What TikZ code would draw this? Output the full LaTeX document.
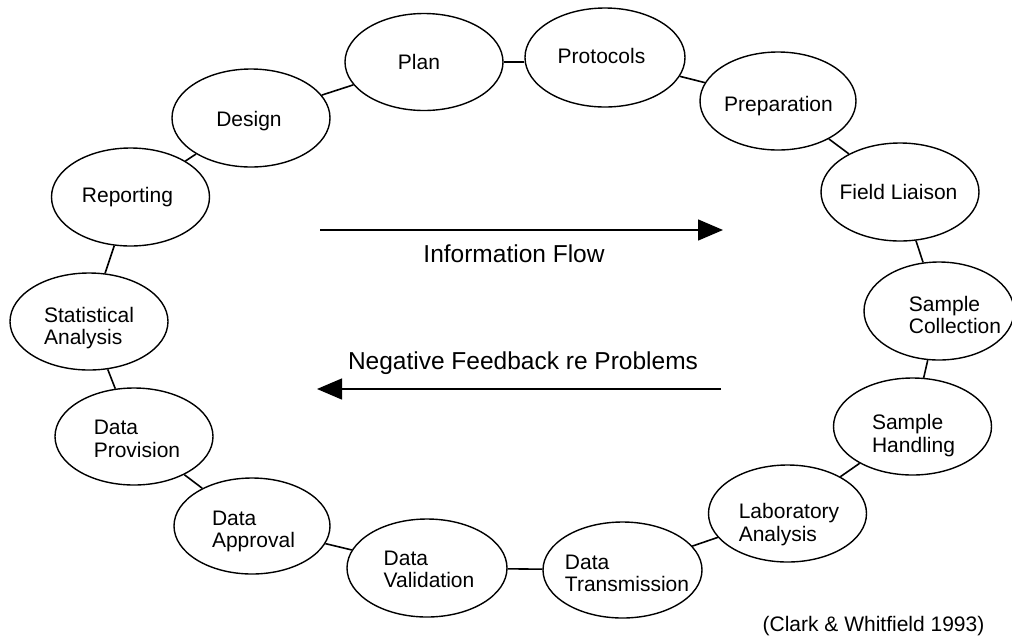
\documentclass[tikz,border=0pt]{standalone}
\usepackage{fontspec}
\setmainfont{Liberation Sans}
\usetikzlibrary{shapes.geometric,arrows.meta}
\begin{document}
\begin{tikzpicture}[x=1pt,y=-1pt,
  oval/.style={draw,line width=1.4pt,ellipse,inner sep=0pt,minimum width=158pt,minimum height=97pt},
  lbl/.style={inner sep=0pt,font=\fontsize{21}{22.5}\selectfont,align=left},
  big/.style={inner sep=0pt,font=\fontsize{24.5}{27}\selectfont},
  conn/.style={line width=1.6pt},
  flow/.style={line width=1.4pt,-{Triangle[length=25pt,width=21pt]}}]
\useasboundingbox (0,0) rectangle (1012,641);
% ellipses
\node[oval] (plan) at (424,62) {};
\node[oval,minimum width=160pt,minimum height=99pt] (protocols) at (605,57.5) {};
\node[oval,minimum width=156pt,minimum height=98pt] (preparation) at (778,101) {};
\node[oval,minimum height=98pt] (field) at (900,192) {};
\node[oval,minimum width=150pt,minimum height=98pt] (collection) at (939,311) {};
\node[oval] (handling) at (912.5,426.5) {};
\node[oval] (lab) at (787.5,513.5) {};
\node[oval,minimum width=159pt,minimum height=96pt] (transmission) at (622.5,570) {};
\node[oval,minimum width=160pt,minimum height=98pt] (validation) at (427,568) {};
\node[oval,minimum width=156pt,minimum height=96pt] (approval) at (252,526) {};
\node[oval] (provision) at (134,436.5) {};
\node[oval] (stat) at (89,321.5) {};
\node[oval,minimum height=98pt] (reporting) at (130.5,197) {};
\node[oval,minimum height=98pt] (design) at (251,118) {};
% labels
\node[lbl] (tplan) at (419,62) {Plan};
\node[lbl] (tprotocols) at (601.5,55.5) {Protocols};
\node[lbl] (tpreparation) at (778.5,106) {Preparation};
\node[lbl] (tfield) at (898.5,191.5) {Field Liaison};
\node[lbl] (tcollection) at (955,315) {Sample\\Collection};
\node[lbl] (thandling) at (913.5,435.5) {Sample\\Handling};
\node[lbl] (tlab) at (789,524.5) {Laboratory\\Analysis};
\node[lbl] (ttransmission) at (627,573.5) {Data\\Transmission};
\node[lbl] (tvalidation) at (429,569.5) {Data\\Validation};
\node[lbl] (tapproval) at (253.5,531.5) {Data\\Approval};
\node[lbl] (tprovision) at (137,439) {Data\\Provision};
\node[lbl] (tstat) at (89,328) {Statistical\\Analysis};
\node[lbl] (treporting) at (127.5,197) {Reporting};
\node[lbl] (tdesign) at (249,121.5) {Design};
% connectors
\draw[conn] (design) -- (plan);
\draw[conn] (plan.east) -- (protocols.west |- plan.east);
\draw[conn] (protocols) -- (preparation);
\draw[conn] (preparation) -- (field);
\draw[conn] (field) -- (collection);
\draw[conn] (collection) -- (handling);
\draw[conn] (handling) -- (lab);
\draw[conn] (lab) -- (transmission);
\draw[conn] (transmission) -- (validation);
\draw[conn] (validation) -- (approval);
\draw[conn] (approval) -- (provision);
\draw[conn] (provision) -- (stat);
\draw[conn] (stat) -- (reporting);
\draw[conn] (reporting) -- (design);
% flow arrows
\coordinate (f1s) at (320,230);
\coordinate (f1e) at (723,230);
\draw[flow] (f1s) -- (f1e);
\node[big] (tflow) at (514,254) {Information Flow};
\coordinate (f2s) at (721,389);
\coordinate (f2e) at (317,389);
\draw[flow] (f2s) -- (f2e);
\node[big] (tneg) at (523,363) {Negative Feedback re Problems};
\node[lbl] (cite) at (873.5,626) {(Clark \& Whitfield 1993)};
\end{tikzpicture}
\end{document}
